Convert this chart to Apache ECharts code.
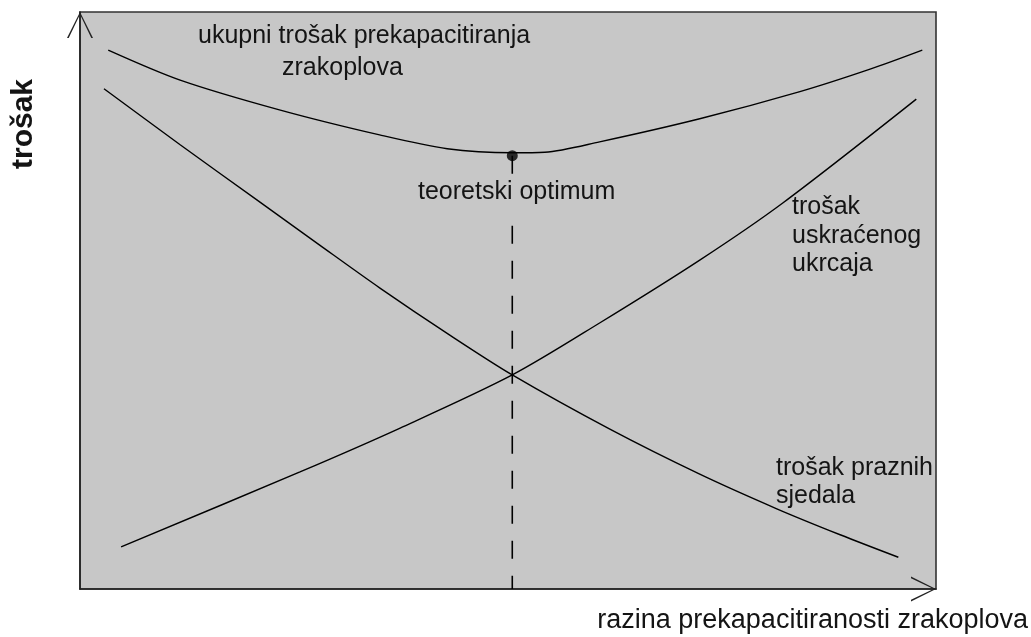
<!DOCTYPE html>
<html>
<head>
<meta charset="utf-8">
<script src="https://cdn.jsdelivr.net/npm/echarts@6/dist/echarts.min.js"></script>
<style>
html,body{margin:0;padding:0;background:#fff;}
#c{width:1031px;height:637px;}
</style>
</head>
<body>
<div id="c"></div>
<script>
// Data (x: overcapacity level 0-100, y: cost 0-100)
const xTotal = [3.3, 11.7, 23.4, 35.0, 42.9, 50.5, 54.3, 60.7, 72.4, 84.1, 92.3, 98.4];
const yTotal = [93.4, 88.2, 83.0, 78.7, 76.3, 75.6, 75.7, 77.5, 81.5, 86.2, 90.1, 93.4];

const xSeats = [2.8, 11.7, 20.7, 28.0, 35.0, 43.2, 50.5, 61.9, 72.4, 81.4, 88.8, 95.6];
const ySeats = [86.7, 77.0, 67.4, 59.6, 52.2, 44.0, 37.1, 27.7, 19.9, 13.9, 9.4, 5.5];

const xDenied = [4.8, 25.7, 37.4, 50.5, 60.7, 72.4, 82.1, 97.7];
const yDenied = [7.3, 20.3, 27.9, 37.1, 46.1, 57.0, 66.9, 84.9];

const xOpt = 50.5;
const yOpt = 75.1;

const labelTotal = ['ukupni trošak prekapacitiranja', 'zrakoplova'];
const labelOpt = 'teoretski optimum';
const labelDenied = ['trošak', 'uskraćenog', 'ukrcaja'];
const labelSeats = ['trošak praznih', 'sjedala'];
const xName = 'razina prekapacitiranosti zrakoplova';
const yName = 'trošak';

const zip = (xs, ys) => xs.map((x, i) => [x, ys[i]]);

const FONT = '"Liberation Sans", Arial, sans-serif';
const TXT = '#141414';
const GRAY = '#c7c7c7';
const arrowPath = 'path://M13,0 L0,26 L1.7,26 L13,2.6 L24.3,26 L26,26 Z';

function txt(text, x, y, size, extra) {
  return Object.assign({
    type: 'text', x: x, y: y, z: 100,
    style: Object.assign({
      text: text, fill: TXT,
      font: size + 'px ' + FONT,
      textAlign: 'left', textVerticalAlign: 'middle'
    }, extra && extra.style || {})
  }, extra && extra.el || {});
}

const chart = echarts.init(document.getElementById('c'), null, {renderer: 'canvas'});
const lineStyle = {color: '#000', width: 1.4};

chart.setOption({
  animation: false,
  backgroundColor: '#fff',
  grid: {
    left: 80, top: 12, right: 95, bottom: 48,
    show: true, backgroundColor: GRAY, borderColor: '#333', borderWidth: 1.6
  },
  xAxis: {
    type: 'value', min: 0, max: 100,
    axisLine: {show: true, onZero: false, symbol: ['none', arrowPath], symbolSize: [26, 25], symbolOffset: [0, -12.5],
      lineStyle: {color: '#222', width: 1.6}},
    axisTick: {show: false}, axisLabel: {show: false}, splitLine: {show: false}
  },
  yAxis: {
    type: 'value', min: 0, max: 100,
    axisLine: {show: true, onZero: false, symbol: ['none', arrowPath], symbolSize: [27, 26], symbolOffset: [0, -13],
      lineStyle: {color: '#222', width: 1.6}},
    axisTick: {show: false}, axisLabel: {show: false}, splitLine: {show: false}
  },
  series: [
    {type: 'line', data: zip(xTotal, yTotal), smooth: 0.3, showSymbol: false, lineStyle: lineStyle, silent: true},
    {type: 'line', data: zip(xSeats, ySeats), smooth: 0.3, showSymbol: false, lineStyle: lineStyle, silent: true},
    {type: 'line', data: zip(xDenied, yDenied), smooth: 0.3, showSymbol: false, lineStyle: lineStyle, silent: true},
    {type: 'line', data: [[xOpt, yOpt], [xOpt, 0]], showSymbol: false, silent: true,
      lineStyle: {color: '#000', width: 1.6, type: [18, 17], dashOffset: 0}},
    {type: 'scatter', data: [[xOpt, yOpt]], symbolSize: 11, itemStyle: {color: '#000'}, silent: true, z: 5}
  ],
  graphic: [
    txt(labelTotal[0], 198, 36, 25),
    txt(labelTotal[1], 282, 68, 25),
    txt(labelOpt, 415, 192, 25, {style: {backgroundColor: GRAY, padding: [2, 3, 9, 3]}}),
    txt(labelDenied[0], 792, 207, 25),
    txt(labelDenied[1], 792, 236, 25),
    txt(labelDenied[2], 792, 264, 25),
    txt(labelSeats[0], 776, 468, 25),
    txt(labelSeats[1], 776, 496, 25),
    txt(xName, 1028, 621, 27, {style: {textAlign: 'right'}}),
    txt(yName, 24, 124, 30, {style: {textAlign: 'center', font: 'bold 30px ' + FONT}, el: {rotation: Math.PI / 2}})
  ]
});
</script>
</body>
</html>
